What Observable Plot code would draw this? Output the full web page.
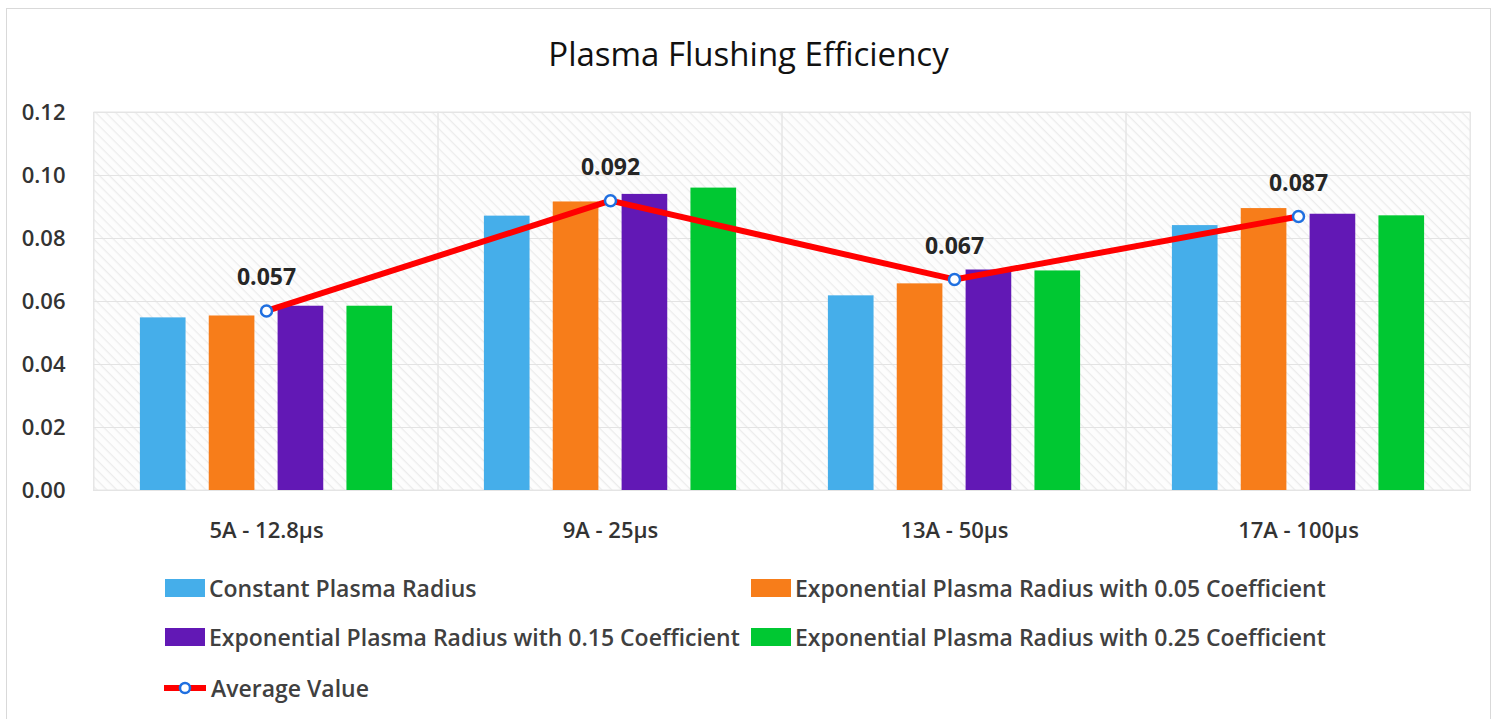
<!DOCTYPE html>
<html><head><meta charset="utf-8">
<script src="https://cdn.jsdelivr.net/npm/d3@7"></script>
<script src="https://cdn.jsdelivr.net/npm/@observablehq/plot@0.6"></script>
<style>
body{margin:0;background:#fff;font-family:"Open Sans",sans-serif;width:1497px;height:719px;overflow:hidden;position:relative;}
#frame{position:absolute;left:6px;top:8px;width:1485px;height:720px;border:1px solid #d9d9d9;box-sizing:border-box;}
#title{position:absolute;left:0;top:33px;width:1497px;text-align:center;font-size:33px;color:#111;line-height:42px;}
#chart{position:absolute;left:0;top:95px;}
.leg{position:absolute;font-size:23px;font-weight:600;color:#404040;display:flex;align-items:center;height:30px;white-space:nowrap;}
.leg svg{margin-right:4px;}
</style></head><body>
<div id="frame"></div>
<div id="title">Plasma Flushing Efficiency</div>
<div id="chart"></div>
<div id="legend"></div>
<script>
const categories = ["5A - 12.8μs", "9A - 25μs", "13A - 50μs", "17A - 100μs"];
const seriesNames = [
  "Constant Plasma Radius",
  "Exponential Plasma Radius with 0.05 Coefficient",
  "Exponential Plasma Radius with 0.15 Coefficient",
  "Exponential Plasma Radius with 0.25 Coefficient"
];
const constantRadius = [0.0548, 0.0871, 0.0618, 0.0841];
const exp005 = [0.0554, 0.0916, 0.0656, 0.0895];
const exp015 = [0.0585, 0.0940, 0.0700, 0.0877];
const exp025 = [0.0585, 0.0960, 0.0697, 0.0872];
const averageValue = [0.057, 0.092, 0.067, 0.087];
const averageName = "Average Value";
const yTicks = [0, 0.02, 0.04, 0.06, 0.08, 0.10, 0.12];
const colors = ["#45aeea", "#f77d1a", "#6218b5", "#00c832"];

const seriesValues = [constantRadius, exp005, exp015, exp025];
const barData = seriesValues.map((vals, k) => categories.map((c, i) => ({category: c, series: seriesNames[k], value: vals[i]})));
const avgData = categories.map((c, i) => ({category: c, value: averageValue[i]}));

const W = 1497, ML = 93, MR = 27;
const bw = (W - ML - MR) / categories.length;
const step = bw * 0.2;        // bar step within a group
const barW = step * 2 / 3;
const groupSpan = step * (seriesNames.length - 1) + barW;
const offset0 = (bw - groupSpan) / 2;

const marks = [
  Plot.frame({fill: "url(#hatch)", stroke: "#e6e6e6"}),
  Plot.gridY(yTicks, {stroke: "#e3e3e3", strokeOpacity: 1, strokeWidth: 1.2}),
  Plot.rectY(avgData, {x: "category", y1: 0, y2: 0.12, fill: "none", stroke: "#e6e6e6"}),
  ...barData.map((d, k) => Plot.barY(d, {
    x: "category", y: "value", fill: colors[k],
    insetLeft: offset0 + step * k,
    insetRight: bw - (offset0 + step * k + barW)
  })),
  Plot.line(avgData, {x: "category", y: "value", stroke: "#ff0000", strokeWidth: 6}),
  Plot.dot(avgData, {x: "category", y: "value", r: 5.5, fill: "white", stroke: "#1f6fe0", strokeWidth: 2.5}),
  Plot.text(avgData, {x: "category", y: "value", text: d => d.value.toFixed(3), dy: -33, fontSize: 23, fontWeight: 700, fill: "#262626"})
];

const chart = Plot.plot({
  width: W, height: 450,
  marginLeft: ML, marginRight: MR, marginTop: 17, marginBottom: 55,
  style: {fontFamily: "Open Sans", fontSize: "22px", fontWeight: 600, color: "#333333", background: "transparent"},
  x: {type: "band", domain: categories, padding: 0, label: null, tickSize: 0, tickPadding: 32},
  y: {domain: [0, 0.12], ticks: yTicks, tickFormat: d3.format(".2f"), label: null, tickSize: 0, tickPadding: 28},
  marks
});

// hatch pattern
const svg = d3.select(chart.tagName.toLowerCase() === "svg" ? chart : chart.querySelector("svg"));
const defs = svg.insert("defs", ":first-child");
const pat = defs.append("pattern").attr("id", "hatch").attr("patternUnits", "userSpaceOnUse")
  .attr("width", 7).attr("height", 7).attr("patternTransform", "rotate(45)");
pat.append("rect").attr("width", 7).attr("height", 7).attr("fill", "#fdfdfd");
pat.append("line").attr("x1", 0).attr("y1", 0).attr("x2", 7).attr("y2", 0).attr("stroke", "#ececec").attr("stroke-width", 2.5);

document.getElementById("chart").appendChild(chart);

// legend
const legend = document.getElementById("legend");
const legItems = [
  {name: seriesNames[0], color: colors[0], left: 165, cy: 588},
  {name: seriesNames[1], color: colors[1], left: 751, cy: 588},
  {name: seriesNames[2], color: colors[2], left: 165, cy: 637},
  {name: seriesNames[3], color: colors[3], left: 751, cy: 637},
  {name: averageName, color: "#ff0000", left: 163, cy: 688, line: true}
];
legItems.forEach(it => {
  const div = document.createElement("div");
  div.className = "leg";
  div.style.left = it.left + "px";
  div.style.top = (it.cy - 15) + "px";
  const sw = it.line
    ? `<svg width="44" height="18"><line x1="1" y1="9" x2="43" y2="9" stroke="${it.color}" stroke-width="6"/><circle cx="22" cy="9" r="5" fill="white" stroke="#1f6fe0" stroke-width="2.5"/></svg>`
    : `<svg width="40" height="18"><rect x="0" y="0" width="40" height="18" fill="${it.color}"/></svg>`;
  div.innerHTML = sw + `<span>${it.name}</span>`;
  legend.appendChild(div);
});
</script>
</body></html>
